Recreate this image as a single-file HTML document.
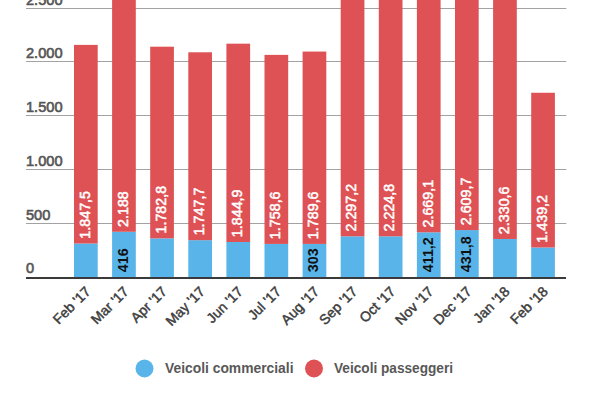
<!DOCTYPE html>
<html><head><meta charset="utf-8"><style>
html,body{margin:0;padding:0;background:#fff;width:600px;height:400px;overflow:hidden}
svg{display:block}
text{font-family:"Liberation Sans",sans-serif}
.yl{font-size:14.6px;fill:#555;stroke:#555;stroke-width:0.6px}
.vl{font-size:14.3px;fill:#fff;stroke:#fff;stroke-width:0.5px}
.bl{font-size:14.3px;font-weight:bold;fill:#111}
.xl{font-size:14px;fill:#3d3d3d;stroke:#3d3d3d;stroke-width:0.45px;text-anchor:end}
.lg{font-size:14px;font-weight:bold;fill:#585858}
</style></head><body>
<svg width="600" height="400" viewBox="0 0 600 400">
<rect x="26" y="223.00" width="540.3" height="1" fill="#a2a2a2"/>
<text x="26" y="219.90" class="yl">500</text>
<rect x="26" y="169.00" width="540.3" height="1" fill="#a2a2a2"/>
<text x="26" y="165.90" class="yl">1.000</text>
<rect x="26" y="115.00" width="540.3" height="1" fill="#a2a2a2"/>
<text x="26" y="111.90" class="yl">1.500</text>
<rect x="26" y="61.00" width="540.3" height="1" fill="#a2a2a2"/>
<text x="26" y="57.90" class="yl">2.000</text>
<rect x="26" y="8.00" width="540.3" height="1" fill="#a2a2a2"/>
<text x="26" y="4.90" class="yl">2.500</text>
<text x="26" y="273.40" class="yl">0</text>
<rect x="74.00" y="243.50" width="23.7" height="34.00" fill="#58b4e9"/>
<rect x="74.00" y="44.89" width="23.7" height="198.61" fill="#de5255"/>
<text transform="translate(89.65,238.70) rotate(-90)" class="vl">1.847,5</text>
<text transform="translate(91.45,292.40) rotate(-45)" class="xl">Feb '17</text>
<rect x="112.10" y="231.78" width="23.7" height="45.72" fill="#58b4e9"/>
<rect x="112.10" y="-3.43" width="23.7" height="235.21" fill="#de5255"/>
<text transform="translate(127.75,226.98) rotate(-90)" class="vl">2.188</text>
<text transform="translate(127.75,272.20) rotate(-90)" class="bl">416</text>
<text transform="translate(129.55,292.40) rotate(-45)" class="xl">Mar '17</text>
<rect x="150.20" y="238.34" width="23.7" height="39.16" fill="#58b4e9"/>
<rect x="150.20" y="46.69" width="23.7" height="191.65" fill="#de5255"/>
<text transform="translate(165.85,233.54) rotate(-90)" class="vl">1.782,8</text>
<text transform="translate(167.65,292.40) rotate(-45)" class="xl">Apr '17</text>
<rect x="188.30" y="240.16" width="23.7" height="37.34" fill="#58b4e9"/>
<rect x="188.30" y="52.29" width="23.7" height="187.88" fill="#de5255"/>
<text transform="translate(203.95,235.36) rotate(-90)" class="vl">1.747,7</text>
<text transform="translate(205.75,292.40) rotate(-45)" class="xl">May '17</text>
<rect x="226.40" y="241.99" width="23.7" height="35.51" fill="#58b4e9"/>
<rect x="226.40" y="43.67" width="23.7" height="198.33" fill="#de5255"/>
<text transform="translate(242.05,237.19) rotate(-90)" class="vl">1.844,9</text>
<text transform="translate(243.85,292.40) rotate(-45)" class="xl">Jun '17</text>
<rect x="264.50" y="243.93" width="23.7" height="33.57" fill="#58b4e9"/>
<rect x="264.50" y="54.88" width="23.7" height="189.05" fill="#de5255"/>
<text transform="translate(280.15,239.13) rotate(-90)" class="vl">1.758,6</text>
<text transform="translate(281.95,292.40) rotate(-45)" class="xl">Jul '17</text>
<rect x="302.60" y="243.93" width="23.7" height="33.57" fill="#58b4e9"/>
<rect x="302.60" y="51.55" width="23.7" height="192.38" fill="#de5255"/>
<text transform="translate(318.25,239.13) rotate(-90)" class="vl">1.789,6</text>
<text transform="translate(318.25,272.20) rotate(-90)" class="bl">303</text>
<text transform="translate(320.05,292.40) rotate(-45)" class="xl">Aug '17</text>
<rect x="340.70" y="236.30" width="23.7" height="41.20" fill="#58b4e9"/>
<rect x="340.70" y="-10.65" width="23.7" height="246.95" fill="#de5255"/>
<text transform="translate(356.35,231.50) rotate(-90)" class="vl">2.297,2</text>
<text transform="translate(358.15,292.40) rotate(-45)" class="xl">Sep '17</text>
<rect x="378.80" y="236.30" width="23.7" height="41.20" fill="#58b4e9"/>
<rect x="378.80" y="-2.87" width="23.7" height="239.17" fill="#de5255"/>
<text transform="translate(394.45,231.50) rotate(-90)" class="vl">2.224,8</text>
<text transform="translate(396.25,292.40) rotate(-45)" class="xl">Oct '17</text>
<rect x="416.90" y="232.30" width="23.7" height="45.20" fill="#58b4e9"/>
<rect x="416.90" y="-54.63" width="23.7" height="286.93" fill="#de5255"/>
<text transform="translate(432.55,227.50) rotate(-90)" class="vl">2.669,1</text>
<text transform="translate(432.55,272.20) rotate(-90)" class="bl">411,2</text>
<text transform="translate(434.35,292.40) rotate(-45)" class="xl">Nov '17</text>
<rect x="455.00" y="230.08" width="23.7" height="47.42" fill="#58b4e9"/>
<rect x="455.00" y="-50.46" width="23.7" height="280.54" fill="#de5255"/>
<text transform="translate(470.65,225.28) rotate(-90)" class="vl">2.609,7</text>
<text transform="translate(470.65,272.20) rotate(-90)" class="bl">431,8</text>
<text transform="translate(472.45,292.40) rotate(-45)" class="xl">Dec '17</text>
<rect x="493.10" y="238.98" width="23.7" height="38.52" fill="#58b4e9"/>
<rect x="493.10" y="-11.56" width="23.7" height="250.54" fill="#de5255"/>
<text transform="translate(508.75,234.18) rotate(-90)" class="vl">2.330,6</text>
<text transform="translate(510.55,292.40) rotate(-45)" class="xl">Jan '18</text>
<rect x="531.20" y="247.47" width="23.7" height="30.03" fill="#58b4e9"/>
<rect x="531.20" y="92.76" width="23.7" height="154.71" fill="#de5255"/>
<text transform="translate(546.85,242.67) rotate(-90)" class="vl">1.439,2</text>
<text transform="translate(548.65,292.40) rotate(-45)" class="xl">Feb '18</text>
<rect x="26" y="277" width="540" height="2" fill="#3a3a3a"/>
<circle cx="144.5" cy="368.5" r="9" fill="#58b4e9"/>
<text x="165" y="372.5" class="lg" textLength="128.5" lengthAdjust="spacingAndGlyphs">Veicoli commerciali</text>
<circle cx="314" cy="368.5" r="9" fill="#de5255"/>
<text x="334" y="372.5" class="lg" textLength="119" lengthAdjust="spacingAndGlyphs">Veicoli passeggeri</text>
</svg>
</body></html>
